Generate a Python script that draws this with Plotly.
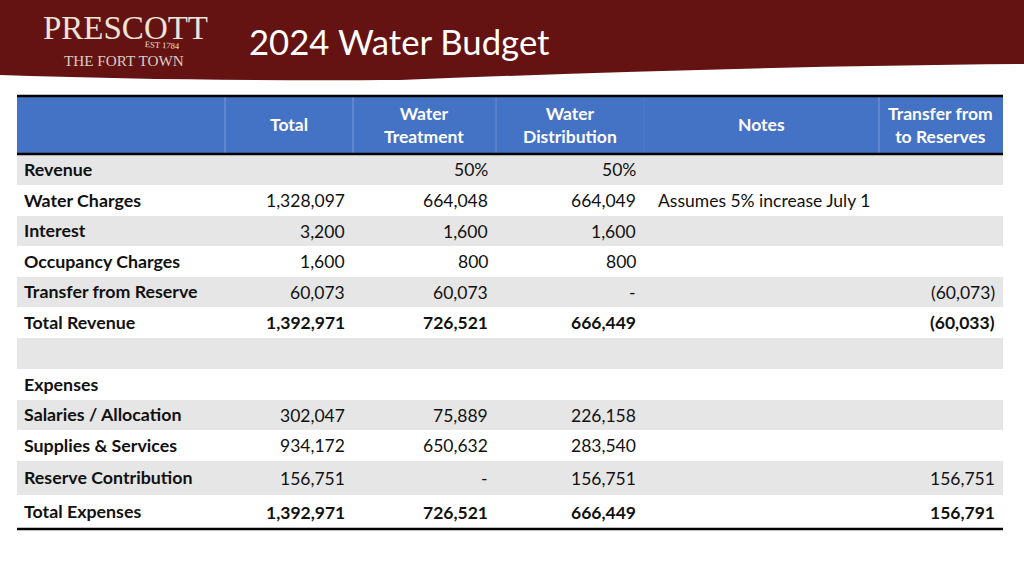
import plotly.graph_objects as go

title = "2024 Water Budget"
headers = ["", "Total", "Water<br>Treatment", "Water<br>Distribution", "Notes", "Transfer from<br>to Reserves"]
row_labels = ["Revenue", "Water Charges", "Interest", "Occupancy Charges", "Transfer from Reserve", "Total Revenue", "",
              "Expenses", "Salaries / Allocation", "Supplies & Services", "Reserve Contribution", "Total Expenses"]
total = ["", "1,328,097", "3,200", "1,600", "60,073", "1,392,971", "", "", "302,047", "934,172", "156,751", "1,392,971"]
treatment = ["50%", "664,048", "1,600", "800", "60,073", "726,521", "", "", "75,889", "650,632", "-", "726,521"]
distribution = ["50%", "664,049", "1,600", "800", "-", "666,449", "", "", "226,158", "283,540", "156,751", "666,449"]
notes = ["", "Assumes 5% increase July 1", "", "", "", "", "", "", "", "", "", ""]
reserves = ["", "", "", "", "(60,073)", "(60,033)", "", "", "", "", "156,751", "156,791"]
bold_rows = ["Total Revenue", "Total Expenses"]

FONT = "Lato"
FS = 17.5
LABEL_FS = 17.8
RED = "#651213"
BLUE = "#4472C4"
GREY = "#E7E6E6"
INK = "#111111"

col_edges = [17, 225, 353, 496, 644, 879, 1003]
sep_colors = ["#7C9BD6", "#7C9BD6", "#6C8FD0", "#4F7AC8", "#7C9BD6"]
row_edges = [154, 185, 216, 246, 277, 307, 338, 369, 400, 430, 461, 495, 529]
HEAD_TOP = 96

shapes, ann = [], []

# banner with its slightly curved lower edge
shapes.append(dict(type="path", layer="below", line_width=0, fillcolor=RED,
                   path="M 0 0 L 1024 0 L 1024 64 C 800 66 600 72 400 80 C 250 81 120 79 0 75 Z"))

# header block
shapes.append(dict(type="rect", x0=17, x1=1003, y0=HEAD_TOP, y1=154, fillcolor=BLUE, line_width=0, layer="below"))
for x, c in zip(col_edges[1:-1], sep_colors):
    shapes.append(dict(type="line", x0=x, x1=x, y0=HEAD_TOP, y1=153, line=dict(color=c, width=1), layer="below"))
for y, w in [(HEAD_TOP, 2.5), (154, 2.5), (529, 2.5)]:
    shapes.append(dict(type="line", x0=17, x1=1003, y0=y, y1=y, line=dict(color="#000000", width=w)))

# banded rows
for i in range(len(row_labels)):
    if i % 2 == 0:
        shapes.append(dict(type="rect", x0=17, x1=1003, y0=row_edges[i], y1=row_edges[i + 1],
                           fillcolor=GREY, line_width=0, layer="below"))


def text(x, y, s, size=FS, color=INK, anchor="left", bold=False, family=FONT, angle=0):
    if not s:
        return
    ann.append(dict(x=x, y=y, text=f"<b>{s}</b>" if bold else s, showarrow=False, xanchor=anchor, yanchor="middle",
                    align="center" if anchor == "center" else anchor, textangle=angle,
                    font=dict(family=family, size=size, color=color)))


for i, h in enumerate(headers):
    text((col_edges[i] + col_edges[i + 1]) / 2 - 0.5, 124.5, h, color="white", anchor="center", bold=True)

for i, label in enumerate(row_labels):
    y = (row_edges[i] + row_edges[i + 1]) / 2
    b = label in bold_rows
    text(22, y - 0.6, label, size=LABEL_FS, bold=True)
    text(347, y, total[i], anchor="right", bold=b)
    text(490, y, treatment[i], anchor="right", bold=b)
    text(638, y, distribution[i], anchor="right", bold=b)
    text(656, y, notes[i])
    text(997, y, reserves[i], anchor="right", bold=b)

# title and logo wordmark
text(247, 41, title, size=34.7, color="white")
LOGO = "#EDE3D6"
text(125, 28, "PRESCOTT", size=33, color=LOGO, anchor="center", family="Liberation Serif")
text(162, 45, "EST 1784", size=8.5, color=LOGO, anchor="center", family="Liberation Serif", angle=3)
text(124, 60, "THE FORT TOWN", size=15.2, color="#D9CFC3", anchor="center", family="Liberation Serif")

fig = go.Figure()
fig.update_layout(
    width=1024, height=576, margin=dict(l=0, r=0, t=0, b=0),
    paper_bgcolor="white", plot_bgcolor="white", showlegend=False,
    xaxis=dict(range=[0, 1024], visible=False, fixedrange=True),
    yaxis=dict(range=[576, 0], visible=False, fixedrange=True),
    shapes=shapes, annotations=ann,
)
fig.write_html("out.html", config=dict(displayModeBar=False),
               post_script="document.body.style.margin='0';")
